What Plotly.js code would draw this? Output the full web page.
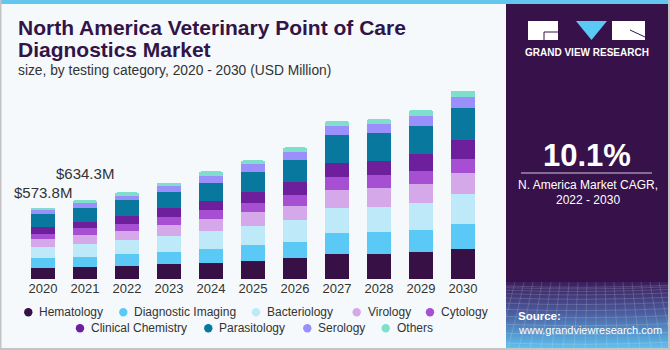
<!DOCTYPE html>
<html><head><meta charset="utf-8">
<script src="https://cdn.plot.ly/plotly-3.0.1.min.js"></script>
<style>html,body{margin:0;padding:0;background:#f5f9fc;}#chart{width:670px;height:350px;}</style>
</head><body><div id="chart"></div>
<script>
const years = ['2020','2021','2022','2023','2024','2025','2026','2027','2028','2029','2030'];
const seriesNames = ['Hematology','Diagnostic Imaging','Bacteriology','Virology','Cytology','Clinical Chemistry','Parasitology','Serology','Others'];
const hematology        = [85.4, 94.5, 107.2, 117.9, 131.3, 147.4, 168.8, 203.7, 203.7, 217.1, 238.5];
const diagnosticImaging = [80.1, 83.7, 91.1, 101.8, 112.6, 123.3, 131.3, 163.5, 171.5, 176.9, 201.0];
const bacteriology      = [88.1, 102.6, 112.6, 128.6, 142.0, 158.1, 174.2, 206.4, 206.4, 217.1, 241.2];
const virology          = [64.1, 70.2, 75.0, 85.8, 96.5, 107.2, 115.2, 139.4, 147.4, 152.8, 171.5];
const cytology          = [48.0, 56.7, 59.0, 61.6, 69.7, 72.4, 85.8, 104.5, 104.5, 107.2, 115.2];
const clinicalChemistry = [53.4, 54.0, 61.6, 72.4, 77.7, 91.1, 104.5, 115.2, 117.9, 131.3, 147.4];
const parasitology      = [101.4, 110.7, 126.0, 134.0, 144.7, 158.1, 174.2, 222.4, 219.8, 230.5, 262.6];
const serology          = [32.0, 35.1, 37.5, 42.9, 53.6, 67.0, 67.0, 72.4, 75.0, 77.7, 83.1];
const others            = [21.3, 26.8, 26.8, 29.5, 37.5, 29.5, 37.5, 42.9, 40.2, 45.6, 53.6];
const totalLabels = [{index:0, text:'$573.8M', value:699}, {index:1, text:'$634.3M', value:852}];
const cagrText = '10.1%';

const seriesValues = [hematology, diagnosticImaging, bacteriology, virology, cytology, clinicalChemistry, parasitology, serology, others];
const colors = ['#371146','#5bc9f5','#bde9f9','#d5a8ea','#a74fd2','#6e1f9b','#08789e','#9a8ffb','#7ddfcc'];

// pixel helpers (plot area: x 22..484, y 80..279)
const L=22, R=484, T=80, B=279;
const px = x => (x-L)/(R-L);
const py = y => (B-y)/(B-T);

const traces = seriesNames.map((n,i)=>({type:'bar', name:n, x:years, y:seriesValues[i], marker:{color:colors[i]}, hoverinfo:'x+y+name'}));

const font = 'Liberation Sans, Arial, sans-serif';
const annotations = [
  {text:'<b>North America Veterinary Point of Care</b>', xref:'paper', yref:'paper', x:px(16), y:py(28), xanchor:'left', yanchor:'middle', showarrow:false, font:{family:font, size:21, color:'#321447'}},
  {text:'<b>Diagnostics Market</b>', xref:'paper', yref:'paper', x:px(16), y:py(49), xanchor:'left', yanchor:'middle', showarrow:false, font:{family:font, size:21, color:'#321447'}},
  {text:'size, by testing category, 2020 - 2030 (USD Million)', xref:'paper', yref:'paper', x:px(16), y:py(70), xanchor:'left', yanchor:'middle', showarrow:false, font:{family:font, size:13.8, color:'#333333'}},
  {text:'<b>GRAND VIEW RESEARCH</b>', xref:'paper', yref:'paper', x:px(587), y:py(52), xanchor:'center', yanchor:'middle', showarrow:false, font:{family:font, size:10, color:'#ffffff'}},
  {text:'<b>'+cagrText+'</b>', xref:'paper', yref:'paper', x:px(587), y:py(155), xanchor:'center', yanchor:'middle', showarrow:false, font:{family:font, size:31, color:'#ffffff'}},
  {text:'N. America Market CAGR,', xref:'paper', yref:'paper', x:px(588), y:py(185), xanchor:'center', yanchor:'middle', showarrow:false, font:{family:font, size:12, color:'#ffffff'}},
  {text:'2022 - 2030', xref:'paper', yref:'paper', x:px(588), y:py(200), xanchor:'center', yanchor:'middle', showarrow:false, font:{family:font, size:12, color:'#ffffff'}},
  {text:'<b>Source:</b>', xref:'paper', yref:'paper', x:px(516), y:py(316), xanchor:'left', yanchor:'middle', showarrow:false, font:{family:font, size:11.5, color:'#ffffff'}},
  {text:'www.grandviewresearch.com', xref:'paper', yref:'paper', x:px(516), y:py(330), xanchor:'left', yanchor:'middle', showarrow:false, font:{family:font, size:11, color:'#ffffff'}}
];
totalLabels.forEach(t=>{
  annotations.push({text:t.text, xref:'x', yref:'y', x:t.index, y:t.value, xanchor:'center', yanchor:'middle', showarrow:false, font:{family:font, size:15, color:'#333333'}});
});

// legend (two centred rows, circle keys)
const legendRows = [[0,1,2,3,4],[5,6,7,8]];
const legendMarkerX = [28.3, 123.3, 256, 356.7, 430, 80, 208.3, 307.3, 385.7];
const legendRowY = [312.3, 328.3];
const shapes = [];
legendRows.forEach((row,r)=>row.forEach(i=>{
  const cx = legendMarkerX[i], cy = legendRowY[r];
  shapes.push({type:'circle', xref:'paper', yref:'paper', x0:px(cx-4.2), x1:px(cx+4.2), y0:py(cy-4.2), y1:py(cy+4.2), fillcolor:colors[i], line:{width:0}});
  annotations.push({text:seriesNames[i], xref:'paper', yref:'paper', x:px(cx+9), y:py(cy), xanchor:'left', yanchor:'middle', showarrow:false, font:{family:font, size:12, color:'#333333'}});
}));

// decorative gradient with mesh for the bottom of the side panel
let mesh = '';
for (let i=0;i<=20;i++){ const x=i*9; mesh += `<path d="M${x} 0 Q ${x+ (i-10)*0.8} 30 ${x+(i-10)*2} 66" stroke="rgba(255,255,255,0.22)" fill="none" stroke-width="0.7"/>`; }
for (let j=0;j<12;j++){ const y=4+j*j*0.45+j*1.2; mesh += `<path d="M0 ${y} Q 80 ${y+3} 170 ${y-1}" stroke="rgba(255,255,255,0.22)" fill="none" stroke-width="0.7"/>`; }
const svg = `<svg xmlns="http://www.w3.org/2000/svg" width="164" height="66" viewBox="0 0 164 66" preserveAspectRatio="none"><defs><linearGradient id="g" x1="0" y1="0" x2="0" y2="1"><stop offset="0" stop-color="#3b1d5c"/><stop offset="0.45" stop-color="#4a5a9c"/><stop offset="1" stop-color="#5fc0ee"/></linearGradient></defs><rect width="164" height="66" fill="url(#g)"/>${mesh}</svg>`;
const images = [{source:'data:image/svg+xml;charset=utf-8,'+encodeURIComponent(svg), xref:'paper', yref:'paper', x:px(506), y:py(282), sizex:px(670)-px(506), sizey:py(282)-py(348), xanchor:'left', yanchor:'top', sizing:'stretch', layer:'above'}];

shapes.push(
  {type:'rect', xref:'paper', yref:'paper', x0:px(506), x1:px(670), y0:py(0), y1:py(350), fillcolor:'#37124a', line:{width:0}, layer:'below'},
  {type:'rect', xref:'paper', yref:'paper', x0:px(0), x1:px(670), y0:py(0), y1:py(4), fillcolor:'#62c6ef', line:{width:0}},
  {type:'rect', xref:'paper', yref:'paper', x0:px(0), x1:px(1.5), y0:py(0), y1:py(350), fillcolor:'#c4c4c4', line:{width:0}},
  {type:'rect', xref:'paper', yref:'paper', x0:px(0), x1:px(670), y0:py(348), y1:py(350), fillcolor:'#c4c4c4', line:{width:0}},
  {type:'rect', xref:'paper', yref:'paper', x0:px(668), x1:px(670), y0:py(0), y1:py(350), fillcolor:'#c4c4c4', line:{width:0}},
  // logo
  {type:'rect', xref:'paper', yref:'paper', x0:px(528), x1:px(558), y0:py(21), y1:py(40), fillcolor:'#ffffff', line:{width:0}},
  {type:'path', xref:'paper', yref:'paper', path:`M ${px(544)} ${py(40)} L ${px(544)} ${py(32)} L ${px(558)} ${py(32)}`, line:{color:'#37124a', width:1}},
  {type:'path', xref:'paper', yref:'paper', path:`M ${px(576)} ${py(21)} L ${px(607)} ${py(21)} L ${px(591.5)} ${py(40)} Z`, fillcolor:'#5bc9f5', line:{width:0}},
  {type:'rect', xref:'paper', yref:'paper', x0:px(612), x1:px(645), y0:py(21), y1:py(40), fillcolor:'#ffffff', line:{width:0}},
  {type:'path', xref:'paper', yref:'paper', path:`M ${px(630)} ${py(30)} L ${px(645)} ${py(37)}`, line:{color:'#37124a', width:1}},
  // divider under CAGR
  {type:'line', xref:'paper', yref:'paper', x0:px(521), x1:px(652), y0:py(173), y1:py(173), line:{color:'#d0c8d8', width:1}}
);

const layout = {
  width:670, height:350,
  margin:{l:L, r:670-R, t:T, b:350-B, pad:0},
  paper_bgcolor:'#f5f9fc', plot_bgcolor:'#f5f9fc',
  barmode:'stack', bargap:0.43, barcornerradius:2,
  showlegend:false,
  xaxis:{type:'category', range:[-0.5,10.5], autorange:false, showgrid:false, zeroline:false, showline:false, ticks:'', tickfont:{family:font, size:13, color:'#333333'}, fixedrange:true},
  yaxis:{range:[0,1600], autorange:false, visible:false, showgrid:false, zeroline:false, fixedrange:true},
  annotations, shapes, images
};
Plotly.newPlot('chart', traces, layout, {displayModeBar:false});
</script></body></html>
